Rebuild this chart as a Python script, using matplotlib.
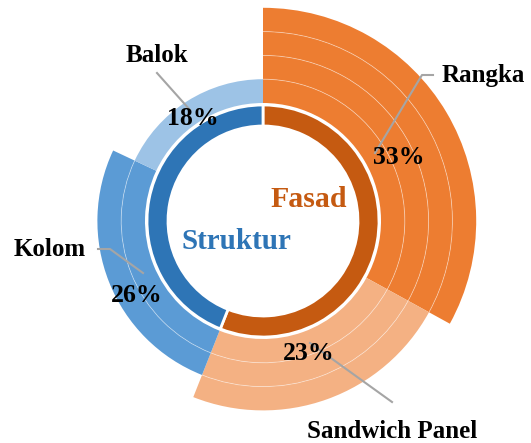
import matplotlib.pyplot as plt
from matplotlib.patches import Arc

# outer ring: segment values and how many bands each segment reaches
sub_labels = ['Rangka', 'Sandwich Panel', 'Kolom', 'Balok']
sub_values = [33, 23, 26, 18]
sub_levels = [4, 3, 2, 1]
sub_colors = ['#ED7D31', '#F4B183', '#5B9BD5', '#9DC3E6']

# inner ring: groups
grp_labels = ['Fasad', 'Struktur']
grp_values = [sub_values[0] + sub_values[1], sub_values[2] + sub_values[3]]
grp_colors = ['#C55A11', '#2E75B6']

W, H = 531, 443
cx, cy = 263, H - 221
inner_r, inner_w = 116, 21
band_r0, band_w = 118, 23.8

plt.rcParams['font.family'] = ['Liberation Serif', 'DejaVu Serif']
fig = plt.figure(figsize=(W / 100, H / 100), dpi=100)
ax = fig.add_axes([0, 0, 1, 1])

ax.pie(grp_values, radius=inner_r, center=(cx, cy), startangle=90,
       counterclock=False, colors=grp_colors,
       wedgeprops=dict(width=inner_w, edgecolor='white', linewidth=2))

nbands = max(sub_levels)
for k in range(1, nbands + 1):
    cols = [c if lv >= k else 'none' for c, lv in zip(sub_colors, sub_levels)]
    ax.pie(sub_values, radius=band_r0 + k * band_w, center=(cx, cy),
           startangle=90, counterclock=False, colors=cols,
           wedgeprops=dict(width=band_w, edgecolor='none', linewidth=0))

# faint white separators between bands
total = sum(sub_values)
cum = 0
for v, lv in zip(sub_values, sub_levels):
    a0 = 90 - 360 * cum / total
    a1 = 90 - 360 * (cum + v) / total
    for k in range(1, lv):
        r = band_r0 + k * band_w
        ax.add_patch(Arc((cx, cy), 2 * r, 2 * r, theta1=a1, theta2=a0,
                         color='white', lw=0.6, alpha=0.45))
    cum += v

lc = '#A5A5A5'
# leader lines
ax.plot([375, 422, 433], [H - 153, H - 75, H - 75], color=lc, lw=1.5)
ax.plot([157, 190], [H - 73, H - 110], color=lc, lw=1.5)
ax.plot([98, 110, 143], [H - 249, H - 249, H - 273], color=lc, lw=1.5)
ax.plot([310, 392], [H - 343, H - 402], color=lc, lw=1.5)

pct_pos = [(399, 157), (309, 354), (137, 296), (193, 118)]
lab_pos = [(483, 75), (392, 431), (50, 250), (157, 55)]
for s, (x, y) in zip([f'{v}%' for v in sub_values], pct_pos):
    ax.text(x, H - y, s, ha='center', va='center', fontsize=18.5,
            fontweight='bold', color='black')
for s, (x, y) in zip(sub_labels, lab_pos):
    ax.text(x, H - y, s, ha='center', va='center', fontsize=18,
            fontweight='bold', color='black')

ax.text(309, H - 199, grp_labels[0], ha='center', va='center', fontsize=21.5,
        fontweight='bold', color=grp_colors[0])
ax.text(236, H - 241, grp_labels[1], ha='center', va='center', fontsize=21,
        fontweight='bold', color=grp_colors[1])

ax.set_xlim(0, W)
ax.set_ylim(0, H)
ax.set_aspect('equal')
ax.axis('off')
fig.savefig('out.png', dpi=100)
